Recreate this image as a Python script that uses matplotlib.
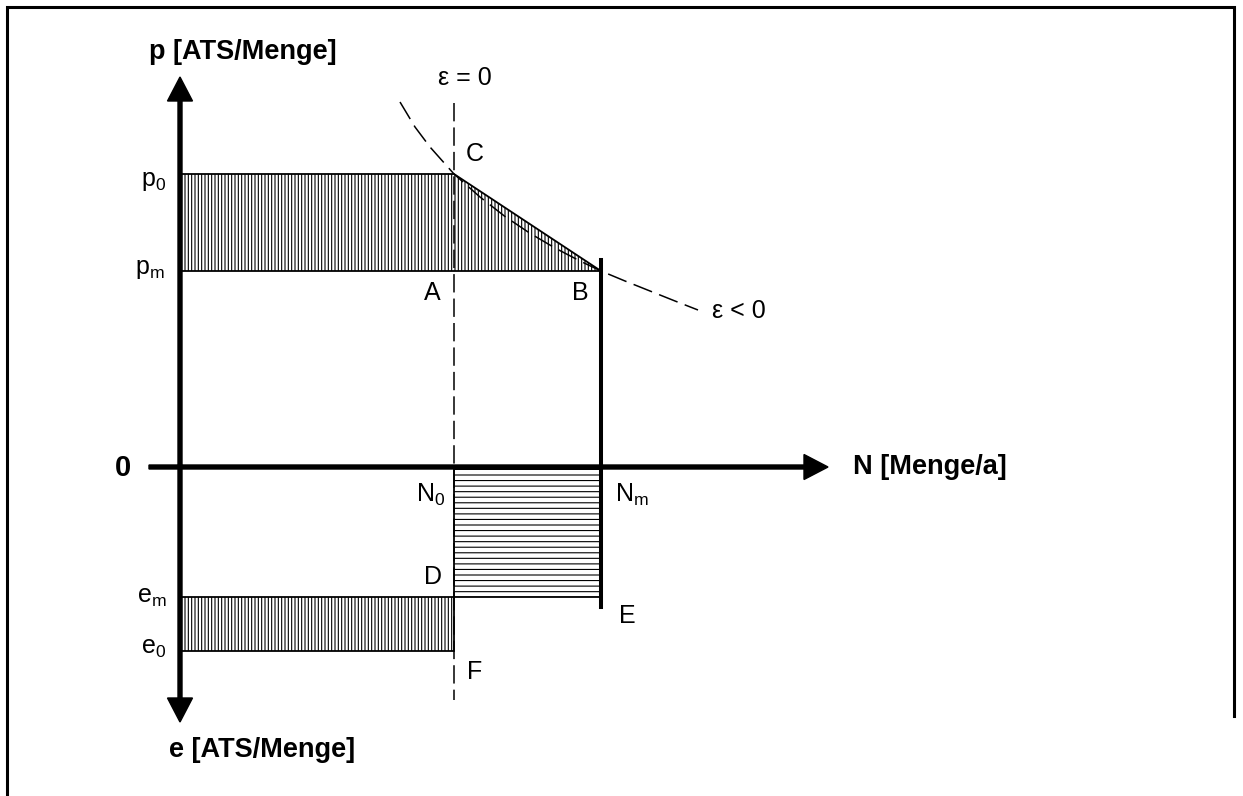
import matplotlib
matplotlib.use("Agg")
import matplotlib.pyplot as plt

plt.rcParams['font.family'] = ['Liberation Sans', 'DejaVu Sans']
plt.rcParams['mathtext.fontset'] = 'custom'
plt.rcParams['mathtext.rm'] = 'Liberation Sans'
plt.rcParams['mathtext.it'] = 'Liberation Sans:italic'
plt.rcParams['hatch.linewidth'] = 0.8

# key quantities (schematic units)
N0 = 2.74
Nm = 4.21
p0 = 2.93
pm = 1.96
em = 1.30
e0 = 1.84

# dashed demand curve (eps < 0)
demand_N = [2.20, 2.35, 2.50, 2.74, 3.00, 3.25, 3.50, 3.75, 4.00, 4.21, 4.45, 4.70, 4.95, 5.18]
demand_p = [3.65, 3.40, 3.20, 2.93, 2.70, 2.505, 2.337, 2.19, 2.06, 1.96, 1.86, 1.76, 1.66, 1.57]

fig = plt.figure(figsize=(12.43, 7.96), dpi=100)
ax = fig.add_axes([0, 0, 1, 1])
ax.set_xlim(-1.80, 10.63)
ax.set_ylim(-3.29, 4.67)
ax.axis('off')

# frame (left, top, right)
ax.plot([0.0056, 0.0056, 0.9928, 0.9928], [0.0, 0.991, 0.991, 0.10], color='black', lw=2.2,
        transform=ax.transAxes, solid_capstyle='projecting', solid_joinstyle='miter')

# hatched revenue area p0 / pm with triangle A-B-C
ax.fill([0, N0, Nm, 0], [p0, p0, pm, pm], facecolor='white', edgecolor='black',
        hatch='|||||', lw=1.3)
# lower left area e0 / em
ax.fill([0, N0, N0, 0], [-em, -em, -e0, -e0], facecolor='white', edgecolor='black',
        hatch='|||||', lw=1.3)
# lower right area N0..Nm, 0..em
ax.fill([N0, Nm, Nm, N0], [0, 0, -em, -em], facecolor='white', edgecolor='black',
        hatch='---', lw=1.3)

# dashed eps = 0 line at N0
ax.plot([N0, N0], [3.64, -2.33], color='black', lw=1.1, linestyle=(0, (12, 4)))
# dashed demand curve
ax.plot(demand_N, demand_p, color='black', lw=1.1, linestyle=(0, (13, 5)))

# thick line at Nm
ax.plot([Nm, Nm], [2.07, -1.40], color='black', lw=2.9)

# axes with arrows
arrow_kw = dict(width=0.04, head_width=0.25, head_length=0.24,
                length_includes_head=True, color='black')
ax.arrow(0, 0, 0, 3.90, **arrow_kw)
ax.arrow(0, 0.02, 0, -2.57, **arrow_kw)
ax.arrow(-0.31, 0, 6.79, 0, **arrow_kw)

fs = 18
fsb = 19.5
ax.text(0.63, 4.15, 'p [ATS/Menge]', fontsize=fsb, fontweight='bold', ha='center', va='center')
ax.text(0.82, -2.83, 'e [ATS/Menge]', fontsize=fsb, fontweight='bold', ha='center', va='center')
ax.text(6.73, 0.0, 'N [Menge/a]', fontsize=fsb, fontweight='bold', ha='left', va='center')
ax.text(-0.565, -0.01, '0', fontsize=21, fontweight='bold', ha='center', va='center')

ax.text(-0.14, 2.86, r'p$_\mathrm{0}$', fontsize=fs, ha='right', va='center')
ax.text(-0.15, 1.98, r'p$_\mathrm{m}$', fontsize=fs, ha='right', va='center')
ax.text(-0.13, -1.30, r'e$_\mathrm{m}$', fontsize=fs, ha='right', va='center')
ax.text(-0.14, -1.81, r'e$_\mathrm{0}$', fontsize=fs, ha='right', va='center')

ax.text(2.52, 1.74, 'A', fontsize=fs, ha='center', va='center')
ax.text(4.00, 1.74, 'B', fontsize=fs, ha='center', va='center')
ax.text(2.95, 3.13, 'C', fontsize=fs, ha='center', va='center')
ax.text(2.53, -1.10, 'D', fontsize=fs, ha='center', va='center')
ax.text(4.47, -1.49, 'E', fontsize=fs, ha='center', va='center')
ax.text(2.95, -2.05, 'F', fontsize=fs, ha='center', va='center')
ax.text(2.51, -0.28, r'N$_\mathrm{0}$', fontsize=fs, ha='center', va='center')
ax.text(4.52, -0.28, r'N$_\mathrm{m}$', fontsize=fs, ha='center', va='center')

ax.text(2.85, 3.89, 'ε = 0', fontsize=fs, ha='center', va='center')
ax.text(5.59, 1.56, 'ε < 0', fontsize=fs, ha='center', va='center')

fig.savefig('out.png', dpi=100)
